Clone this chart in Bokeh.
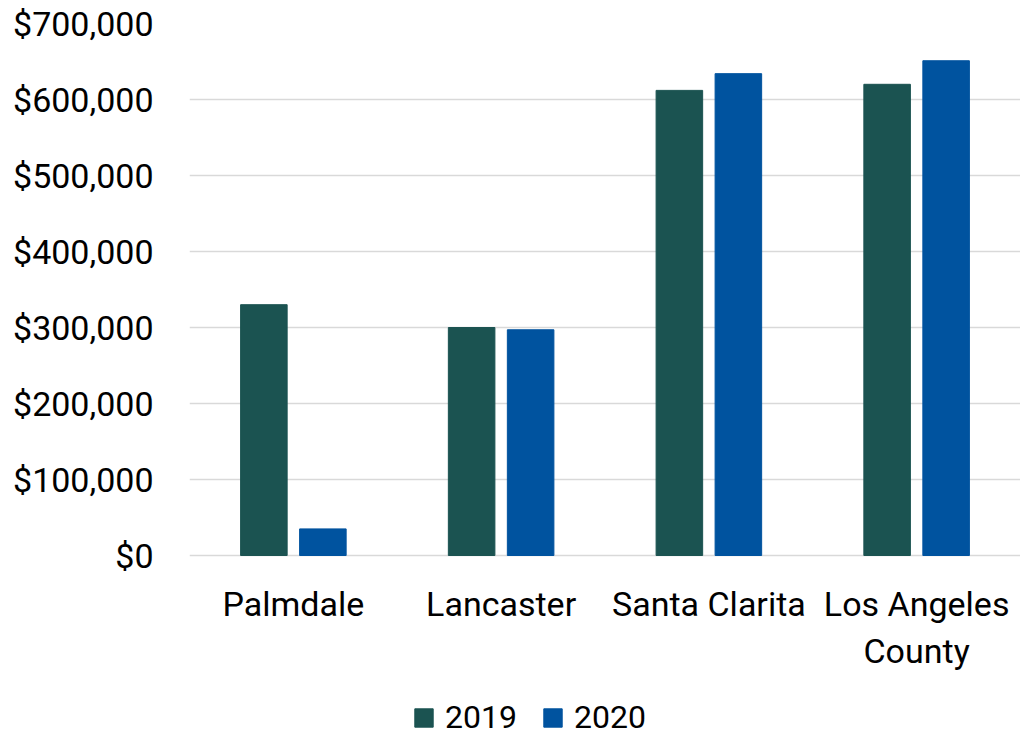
from bokeh.plotting import figure
from bokeh.models import (ColumnDataSource, FactorRange, Range1d, Legend, LegendItem,
                          NumeralTickFormatter, FixedTicker)
from bokeh.transform import dodge
from bokeh.core.properties import value
from bokeh.embed import file_html
from bokeh.resources import INLINE

categories = ["Palmdale", "Lancaster", "Santa Clarita", "Los Angeles County"]
category_labels = ["Palmdale", "Lancaster", "Santa Clarita", "Los Angeles\nCounty"]
values_2019 = [330000, 300000, 612000, 620000]
values_2020 = [35000, 297000, 634000, 651000]
series_names = ["2019", "2020"]
y_ticks = [0, 100000, 200000, 300000, 400000, 500000, 600000, 700000]

FONT = "Roboto"
FS = "34px"
C2019 = "#1B5351"
C2020 = "#00539F"

# layout (pixels): value axis spans 532 px; 182 px below zero line hold labels and legend
Y_MAX = 700000
AXIS_PX = 532
BELOW_PX = 182
units_per_px = Y_MAX / AXIS_PX
y_bottom = -BELOW_PX * units_per_px

source = ColumnDataSource(dict(cat=categories, y2019=values_2019, y2020=values_2020))
label_source = ColumnDataSource(dict(cat=categories, lab=category_labels,
                                     y=[-28 * units_per_px] * len(categories)))

p = figure(x_range=FactorRange(*categories), y_range=Range1d(y_bottom, Y_MAX),
           width=1020, height=737,
           output_backend="svg", toolbar_location=None,
           min_border_left=189, min_border_right=0, min_border_top=23, min_border_bottom=0)
p.outline_line_color = None
p.background_fill_color = "white"
p.border_fill_color = "white"

r1 = p.vbar(x=dodge('cat', -0.142, range=p.x_range), top='y2019', width=0.224, source=source,
            fill_color=C2019, line_color=C2019)
r2 = p.vbar(x=dodge('cat', 0.142, range=p.x_range), top='y2020', width=0.224, source=source,
            fill_color=C2020, line_color=C2020)

p.text(x='cat', y='y', text='lab', source=label_source, text_align="center",
       text_baseline="top", text_font=value(FONT), text_font_size=FS,
       text_color="black", text_line_height=1.18)

p.yaxis.ticker = FixedTicker(ticks=y_ticks)
p.yaxis.formatter = NumeralTickFormatter(format="$0,0")
p.yaxis.axis_line_color = None
p.yaxis.major_tick_line_color = None
p.yaxis.minor_tick_line_color = None
p.yaxis.major_label_standoff = 30
p.yaxis.major_label_text_font = FONT
p.yaxis.major_label_text_font_size = FS
p.yaxis.major_label_text_color = "black"

p.xaxis.visible = False

p.xgrid.grid_line_color = None
p.ygrid.ticker = FixedTicker(ticks=y_ticks)
p.ygrid.grid_line_color = "#D9D9D9"
p.ygrid.grid_line_width = 1.5

legend = Legend(items=[LegendItem(label=series_names[0], renderers=[r1]),
                       LegendItem(label=series_names[1], renderers=[r2])],
                orientation="horizontal", location=(223, 1),
                glyph_width=23, glyph_height=23, label_height=23, label_standoff=10, spacing=24,
                label_text_font=FONT, label_text_font_size="32px", label_text_color="black",
                label_text_baseline="middle",
                border_line_color=None, background_fill_alpha=0, padding=0, margin=0)
p.add_layout(legend, "center")

open("out.html", "w").write(file_html(p, INLINE))
